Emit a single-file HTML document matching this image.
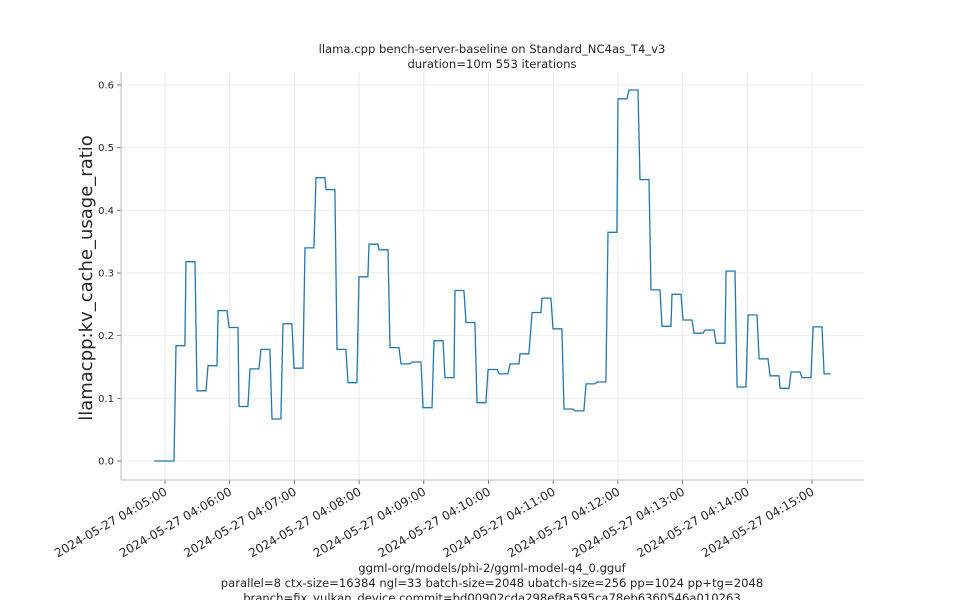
<!DOCTYPE html>
<html><head><meta charset="utf-8"><style>
body{margin:0;background:#fff;}
svg text{font-family:"DejaVu Sans","Liberation Sans",sans-serif;fill:#262626;}
</style></head><body>
<svg id="chart" width="960" height="600" xmlns="http://www.w3.org/2000/svg">
<text x="492" y="53" font-size="11.6" text-anchor="middle">llama.cpp bench-server-baseline on Standard_NC4as_T4_v3</text>
<text x="492" y="68" font-size="11.6" text-anchor="middle">duration=10m 553 iterations</text>
<g id="grid"></g>
<g id="axes"></g>
<path id="series" fill="none" stroke="#1f77b4" stroke-width="1.3"/>
<text transform="translate(92,278) rotate(-90)" font-size="18" text-anchor="middle">llamacpp:kv_cache_usage_ratio</text>
<text x="492" y="572" font-size="11.6" text-anchor="middle">ggml-org/models/phi-2/ggml-model-q4_0.gguf</text>
<text x="492" y="587" font-size="11.6" text-anchor="middle">parallel=8 ctx-size=16384 ngl=33 batch-size=2048 ubatch-size=256 pp=1024 pp+tg=2048</text>
<text x="492" y="602" font-size="11.6" text-anchor="middle">branch=fix_vulkan_device commit=bd00902cda298ef8a595ca78eb6360546a010263</text>
</svg>
<script>
// seconds after 2024-05-27 04:05:00 when each plateau starts
const startSeconds=[-10.2,0,10.2,19.5,29.7,39.9,49.2,59.4,68.6,78.8,89,99.2,109.4,119.6,129.8,140,149.3,159.5,169.7,179.9,189.2,198.5,208.7,218.9,229.1,239.3,249.5,259.7,268.9,279.1,289.3,299.6,309.8,320,329.2,340.4,349.6,359.8,370,380.2,390.4,400.6,410.8,420.1,430.3,440.5,450.7,460.9,470.2,480.4,490.6,500.8,511,520.3,530.5,540.7,550.9,561.1,570.4,580.6,590.8,601,611.2];
const kvValues=[0,0,0.184,0.318,0.112,0.152,0.24,0.213,0.087,0.147,0.178,0.067,0.219,0.148,0.34,0.452,0.433,0.178,0.125,0.294,0.346,0.337,0.181,0.155,0.158,0.085,0.192,0.133,0.272,0.221,0.093,0.146,0.139,0.155,0.171,0.237,0.26,0.211,0.083,0.08,0.123,0.126,0.365,0.578,0.592,0.449,0.273,0.215,0.266,0.225,0.204,0.209,0.188,0.303,0.118,0.233,0.163,0.136,0.116,0.142,0.133,0.214,0.139];
const yTicks=[0,0.1,0.2,0.3,0.4,0.5,0.6];
const yTickLabels=["0.0","0.1","0.2","0.3","0.4","0.5","0.6"];
const xTickMinutes=[0,1,2,3,4,5,6,7,8,9,10];
const xTickLabels=["2024-05-27 04:05:00","2024-05-27 04:06:00","2024-05-27 04:07:00","2024-05-27 04:08:00","2024-05-27 04:09:00","2024-05-27 04:10:00","2024-05-27 04:11:00","2024-05-27 04:12:00","2024-05-27 04:13:00","2024-05-27 04:14:00","2024-05-27 04:15:00"];

const L=121,R=864,T=72,B=480;
const xs=s=>165+s*64.7/60;
const ys=v=>461-v*626.7;
const NS="http://www.w3.org/2000/svg";
function mk(tag,attrs,parent){const e=document.createElementNS(NS,tag);for(const k in attrs)e.setAttribute(k,attrs[k]);parent.appendChild(e);return e;}
const grid=document.getElementById('grid'),axes=document.getElementById('axes');
yTicks.forEach((v,i)=>{
  const g=mk('line',{x1:L,x2:R,y1:ys(v),y2:ys(v),stroke:'#ebebeb','stroke-width':1},grid);
  
  
  const t=mk('line',{x1:L-4,x2:L,y1:ys(v),y2:ys(v),stroke:'#555','stroke-width':0.8},axes);
  
  
  const tx=mk('text',{x:L-7,y:ys(v)+3.5,'font-size':10,'text-anchor':'end'},axes);
  tx.textContent=yTickLabels[i];
  
  
});
xTickMinutes.forEach((m,i)=>{
  const x=xs(m*60);
  const g=mk('line',{x1:x,x2:x,y1:T,y2:B,stroke:'#ebebeb','stroke-width':1},grid);
  
  
  const t=mk('line',{x1:x,x2:x,y1:B,y2:B+4,stroke:'#555','stroke-width':0.8},axes);
  
  
  const tx=mk('text',{x:0,y:0,'font-size':12,'text-anchor':'end',transform:`translate(${x+3},${B+14}) rotate(-30)`},axes);
  tx.textContent=xTickLabels[i];
  
  
});
const sl=mk('line',{x1:L,x2:L,y1:T,y2:B,stroke:'#bbb','stroke-width':1},axes);


const sb=mk('line',{x1:L,x2:R,y1:B,y2:B,stroke:'#bbb','stroke-width':1},axes);


let d='';
startSeconds.forEach((s,i)=>{
  const hold=(i===startSeconds.length-1)?6:(i===0?10.2:8.3);
  d+=(i===0?'M':'L')+xs(s).toFixed(1)+','+ys(kvValues[i]).toFixed(1)+' L'+xs(s+hold).toFixed(1)+','+ys(kvValues[i]).toFixed(1)+' ';
});
document.getElementById('series').setAttribute('d',d);
</script>
</body></html>
